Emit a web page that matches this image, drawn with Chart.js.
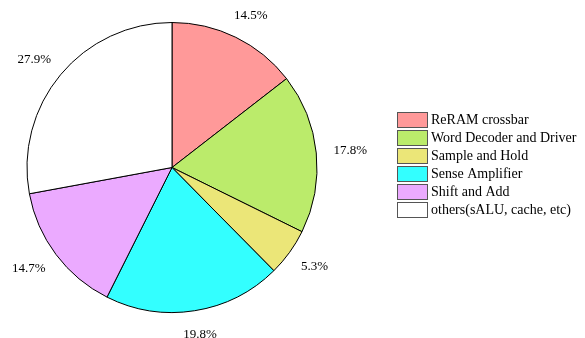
<!DOCTYPE html>
<html>
<head>
<meta charset="utf-8">
<script src="https://cdn.jsdelivr.net/npm/chart.js@4"></script>
<style>
html,body{margin:0;padding:0;background:#fff;}
#wrap{position:relative;width:585px;height:338px;}
</style>
</head>
<body>
<div id="wrap"><canvas id="c" width="585" height="338"></canvas></div>
<script>
const categories = ["ReRAM crossbar", "Word Decoder and Driver", "Sample and Hold", "Sense Amplifier", "Shift and Add", "others(sALU, cache, etc)"];
const shares = [14.5, 17.8, 5.3, 19.8, 14.7, 27.9];
const sliceLabels = ["14.5%", "17.8%", "5.3%", "19.8%", "14.7%", "27.9%"];
const colors = ["#FF9999", "#BBEB6B", "#EBE678", "#33FFFF", "#EBAAFF", "#FFFFFF"];

const FONT = "'Liberation Serif', 'Times New Roman', serif";

const sliceLabelPlugin = {
  id: 'sliceLabels',
  afterDatasetsDraw(chart) {
    const ctx = chart.ctx;
    const meta = chart.getDatasetMeta(0);
    ctx.save();
    ctx.font = "13px " + FONT;
    ctx.fillStyle = "#000";
    ctx.textAlign = "center";
    ctx.textBaseline = "middle";
    meta.data.forEach((arc, i) => {
      const p = arc.getProps(['x','y','startAngle','endAngle','outerRadius'], true);
      const mid = (p.startAngle + p.endAngle) / 2;
      const txt = sliceLabels[i];
      const hw = ctx.measureText(txt).width / 2;
      const hh = 6.5;
      const r = p.outerRadius * 1.12;
      const c = Math.cos(mid), s = Math.sin(mid);
      const x = p.x + r * c + hw * c;
      const y = p.y + r * s + hh * s;
      ctx.fillText(txt, x, y);
    });
    ctx.restore();
  }
};

const legendPlugin = {
  id: 'customLegend',
  afterDraw(chart) {
    const ctx = chart.ctx;
    const labels = chart.data.labels;
    const bg = chart.data.datasets[0].backgroundColor;
    ctx.save();
    ctx.font = "14px " + FONT;
    ctx.textBaseline = "middle";
    ctx.textAlign = "left";
    const x0 = 397.5, y0 = 112.5, rowH = 18, bw = 30, bh = 15;
    labels.forEach((lab, i) => {
      const y = y0 + i * rowH;
      ctx.fillStyle = bg[i];
      ctx.fillRect(x0, y, bw, bh);
      ctx.strokeStyle = "#555";
      ctx.lineWidth = 1;
      ctx.strokeRect(x0, y, bw, bh);
      ctx.fillStyle = "#000";
      ctx.fillText(lab, x0 + bw + 3.5, y + bh / 2 + 0.5);
    });
    ctx.restore();
  }
};

new Chart(document.getElementById('c'), {
  type: 'pie',
  data: {
    labels: categories,
    datasets: [{
      data: shares,
      backgroundColor: colors,
      borderColor: "#000",
      borderWidth: 1
    }]
  },
  options: {
    responsive: false,
    animation: false,
    devicePixelRatio: 1,
    layout: { padding: { left: 26.5, right: 267.5, top: 22, bottom: 25 } },
    plugins: {
      legend: { display: false },
      tooltip: { enabled: false }
    }
  },
  plugins: [sliceLabelPlugin, legendPlugin]
});
</script>
</body>
</html>
